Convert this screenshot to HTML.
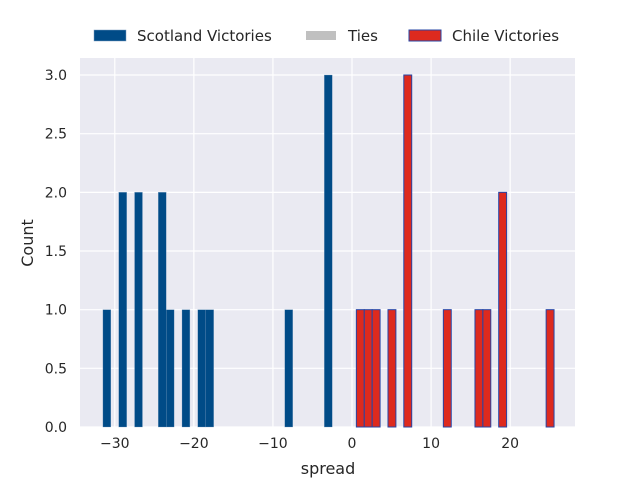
<!DOCTYPE html>
<html><head><meta charset="utf-8"><style>
body{margin:0;background:#fff;font-family:"DejaVu Sans","Liberation Sans",sans-serif}
svg text{fill:#262626;font-family:"DejaVu Sans","Liberation Sans",sans-serif}
</style></head><body>
<svg id="chart" width="640" height="480">
<rect x="80" y="58" width="495" height="369" fill="#eaeaf2"/>
<g id="grid"></g><g id="bars"></g><g id="ticks"></g>
<text x="328" y="474" font-size="16" text-anchor="middle">spread</text>
<text x="33" y="243" font-size="16" text-anchor="middle" transform="rotate(-90 33 243)">Count</text>
<g>
<g><rect x="94" y="30" width="32" height="11" fill="#004b87" stroke="#7a9cc0" stroke-width="0.5"/><text x="137" y="41" font-size="15">Scotland Victories</text></g>
<g><rect x="306" y="31" width="30" height="9" fill="#c0c0c0"/><text x="348" y="41" font-size="15">Ties</text></g>
<g><rect x="409" y="30" width="32" height="11" fill="#dd2a1e" stroke="#2645a5" stroke-width="1"/><text x="452" y="41" font-size="15">Chile Victories</text></g>
</g>
</svg>
<script>
const scotlandSpread=[-31,-29,-27,-24,-23,-21,-19,-18,-8,-3];
const scotlandCount=[1,2,2,2,1,1,1,1,1,3];
const chileSpread=[1,2,3,5,7,12,16,17,19,25];
const chileCount=[1,1,1,1,3,1,1,1,2,1];
const xTicks=[-30,-20,-10,0,10,20];
const yTicks=[0,0.5,1,1.5,2,2.5,3];
const xMin=-34.4,xMax=28.2,yMax=3.145,L=80,R=575,T=58,B=427;
const X=v=>L+(v-xMin)/(xMax-xMin)*(R-L);
const Y=v=>B-v/yMax*(B-T);
const NS="http://www.w3.org/2000/svg";
function mk(t,a,p){const e=document.createElementNS(NS,t);for(const k in a)e.setAttribute(k,a[k]);p.appendChild(e);return e;}
const grid=document.getElementById('grid'),ticks=document.getElementById('ticks'),bars=document.getElementById('bars');
xTicks.forEach(v=>{
  const l=mk('line',{x1:X(v),x2:X(v),y1:T,y2:B,stroke:'#fff','stroke-width':1.2},grid);
  
  
  const t=mk('text',{x:X(v),y:B+21,'font-size':14,'text-anchor':'middle'},ticks);
  t.textContent=(v<0?'\u2212'+(-v):v);
  
  
});
yTicks.forEach(v=>{
  const l=mk('line',{x1:L,x2:R,y1:Y(v),y2:Y(v),stroke:'#fff','stroke-width':1.2},grid);
  
  
  const t=mk('text',{x:L-13,y:Y(v)+5,'font-size':14,'text-anchor':'end'},ticks);
  t.textContent=v.toFixed(1);
  
  
});
const w=X(1)-X(0);
scotlandSpread.forEach((v,i)=>{
  const r=mk('rect',{x:X(v-0.5),y:Y(scotlandCount[i]),width:w,height:B-Y(scotlandCount[i]),fill:'#004b87',stroke:'#7a9cc0','stroke-width':0.3},bars);
  
  
});
chileSpread.forEach((v,i)=>{
  const r=mk('rect',{x:X(v-0.45),y:Y(chileCount[i]),width:w,height:B-Y(chileCount[i]),fill:'#dd2a1e',stroke:'#2645a5','stroke-width':1},bars);
  
  
});
</script>
</body></html>
